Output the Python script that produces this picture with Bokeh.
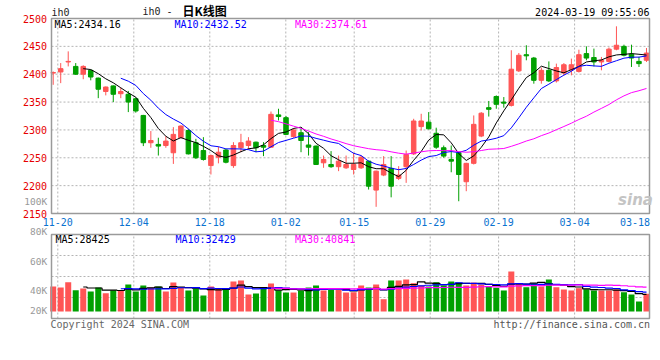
import pandas as pd
from bokeh.plotting import figure
from bokeh.models import Range1d, Label
from bokeh.embed import file_html
from bokeh.resources import INLINE

# ---------------- data ----------------
dates = ["11-20","11-21","11-22","11-23","11-24","11-27","11-28","11-29","11-30",
         "12-01","12-04","12-05","12-06","12-07","12-08","12-11","12-12","12-13","12-14","12-15",
         "12-18","12-19","12-20","12-21","12-22","12-25","12-26","12-27","12-28","12-29",
         "01-02","01-03","01-04","01-05","01-08","01-09","01-10","01-11","01-12","01-15",
         "01-16","01-17","01-18","01-19","01-22","01-23","01-24","01-25","01-26","01-29",
         "01-30","01-31","02-01","02-02","02-05","02-06","02-07","02-08","02-19","02-20",
         "02-21","02-22","02-23","02-26","02-27","02-28","02-29","03-01","03-04","03-05",
         "03-06","03-07","03-08","03-11","03-12","03-13","03-14","03-15","03-18","03-19"]

opens = [2402,2404,2422,2414,2400,2407,2393,2369,2379,2365,
         2364,2356,2326,2277,2274,2272,2259,2286,2299,2277,
         2263,2236,2251,2264,2236,2268,2272,2278,2272,2269,
         2327,2322,2288,2295,2273,2271,2241,2238,2234,2232,
         2229,2232,2244,2192,2219,2231,2213,2234,2257,2306,
         2314,2294,2268,2247,2259,2207,2240,2289,2340,2360,
         2350,2344,2406,2435,2429,2389,2407,2388,2402,2408,
         2405,2437,2430,2422,2423,2445,2450,2436,2423,2425]
highs = [2405,2420,2441,2420,2416,2408,2394,2378,2380,2376,
         2370,2358,2327,2298,2286,2289,2305,2308,2302,2284,
         2287,2256,2270,2266,2278,2293,2287,2279,2278,2333,
         2338,2325,2303,2302,2296,2272,2254,2262,2254,2254,
         2259,2254,2245,2227,2253,2253,2235,2263,2320,2329,
         2332,2304,2272,2272,2261,2241,2326,2332,2352,2362,
         2359,2443,2438,2452,2431,2412,2423,2419,2420,2428,
         2444,2450,2446,2431,2448,2486,2453,2453,2431,2447]
lows = [2381,2384,2414,2399,2391,2389,2357,2362,2350,2357,
        2332,2331,2271,2268,2254,2268,2239,2285,2256,2248,
        2245,2220,2240,2240,2232,2260,2265,2260,2253,2268,
        2317,2291,2286,2260,2254,2237,2232,2232,2226,2230,
        2220,2230,2193,2162,2217,2179,2210,2205,2255,2299,
        2301,2266,2250,2224,2172,2190,2238,2287,2324,2338,
        2340,2342,2404,2425,2383,2383,2386,2385,2398,2398,
        2403,2425,2414,2407,2421,2443,2432,2413,2413,2422]
closes = [2403,2410,2423,2400,2414,2395,2373,2377,2364,2369,
          2350,2334,2277,2281,2271,2280,2292,2307,2257,2250,
          2247,2254,2260,2242,2272,2277,2280,2268,2269,2328,
          2324,2292,2300,2281,2269,2238,2247,2234,2244,2238,
          2238,2251,2199,2226,2238,2199,2219,2256,2316,2316,
          2302,2269,2253,2244,2220,2240,2310,2330,2337,2346,
          2348,2409,2434,2433,2389,2407,2388,2412,2417,2417,
          2435,2429,2422,2425,2445,2452,2434,2429,2419,2438]
volumes = [41500,39800,48600,35400,38200,33200,39800,30400,35400,35400,
           44800,33200,43200,39800,41500,33200,48100,39800,34900,38200,
           26600,41500,38200,38200,49800,51500,28200,29900,38200,46500,
           34900,31500,31500,34900,39800,43200,34900,36000,36000,31500,
           32000,43200,39800,44800,20400,51500,51500,53100,47000,43200,
           41500,48600,43200,49800,48100,43200,48100,44800,41500,39300,
           34900,66400,47000,40300,47000,41500,53100,40300,36500,34900,
           38700,37000,34900,34900,34900,36500,32000,28200,16600,29400]

price_ticks = [2150, 2200, 2250, 2300, 2350, 2400, 2450, 2500]
date_tick_labels = ["11-20", "12-04", "12-18", "01-02", "01-15", "01-29", "02-19", "03-04", "03-18"]
vol_tick_labels = ["100K", "80K", "60K", "40K", "20K"]
header_price = ["MA5:2434.16", "MA10:2432.52", "MA30:2374.61"]
header_vol = ["MA5:28425", "MA10:32429", "MA30:40841"]
title_code = "ih0"
title_text = "ih0 -"
title_cjk = "日K线图"
stamp = "2024-03-19 09:55:06"
copyright_text = "Copyright 2024 SINA.COM"
url_text = "http://finance.sina.com.cn"

# ---------------- layout (pixels) ----------------
W, H = 656, 350
FL, FR = 51, 649                 # panel frame left/right
P_TOP_Y, P_BOT_Y = 18, 213       # price panel top/bottom
V_TOP_Y, V_BASE_Y, V_BOT_Y = 234, 311, 318   # volume panel
X0, PX = 52.7, 7.51              # first candle centre, slot width
VOL_PER_PX = 1660.0

UP, DOWN = "#ff5555", "#00a000"
GRID, FRAME = "#b4b4b4", "#9a9a9a"
MONO = "DejaVu Sans Mono"
MA_COLORS = ["#000000", "#0000ff", "#ff00ff"]

n = len(closes)
idx = list(range(n))
kx = lambda px: (px - X0) / PX
p_lo, p_hi = price_ticks[0], price_ticks[-1]
py = lambda y: p_hi + (p_lo - p_hi) * (y - P_TOP_Y) / (P_BOT_Y - P_TOP_Y)
vy = lambda y: (V_BASE_Y - y) * VOL_PER_PX

# date grid (reference steps its grid slightly wider than the candles)
tick_idx = [dates.index(d) for d in date_tick_labels]
grid_x = [kx(57.3 + 7.6 * i) for i in tick_idx]
fx0, fx1 = kx(FL), kx(FR)
grid_vis = [g for g in grid_x if g < fx1]
label_x = [min(g, kx(FR - 14.5)) for g in grid_x]

colors = [UP if c >= o else DOWN for o, c in zip(opens, closes)]
body_top = [max(o, c) for o, c in zip(opens, closes)]
body_bot = [min(o, c) for o, c in zip(opens, closes)]
cs = pd.Series(closes, dtype=float)
vs = pd.Series(volumes, dtype=float)

p = figure(width=W, height=H, x_range=Range1d(kx(0), kx(W)), y_range=Range1d(py(H), py(0)),
           x_axis_type=None, y_axis_type=None, output_backend="svg", toolbar_location=None,
           min_border=0)
p.outline_line_color = None
p.background_fill_color = "white"
p.border_fill_color = "white"
p.extra_y_ranges = {"vol": Range1d(vy(H), vy(0))}

v_top, v_bot = vy(V_TOP_Y), vy(V_BOT_Y)
grid_kw = dict(line_color=GRID, line_dash="2 2", line_width=1)

# ---- price panel grid ----
hg = price_ticks[1:-1]
p.segment(x0=[fx0] * len(hg), y0=hg, x1=[fx1] * len(hg), y1=hg, **grid_kw)
p.segment(x0=grid_vis, y0=[p_lo] * len(grid_vis), x1=grid_vis, y1=[p_hi] * len(grid_vis), **grid_kw)
# ---- volume panel grid ----
vq = [v_bot + (v_top - v_bot) * q / 4 for q in (1, 2, 3)]
p.segment(x0=[fx0] * 3, y0=vq, x1=[fx1] * 3, y1=vq, y_range_name="vol", **grid_kw)
p.segment(x0=grid_vis, y0=[v_bot] * len(grid_vis), x1=grid_vis, y1=[v_top] * len(grid_vis),
          y_range_name="vol", **grid_kw)

# ---- candles ----
p.segment(x0=idx, y0=lows, x1=idx, y1=highs, line_color=colors, line_width=1)
p.vbar(x=idx, width=0.6, top=body_top, bottom=body_bot, fill_color=colors, line_color=colors, line_width=1)
for w, col in zip((5, 10, 30), MA_COLORS):
    p.line(idx, cs.rolling(w).mean().tolist(), line_color=col, line_width=1)

# ---- volume ----
p.vbar(x=idx, width=0.8, top=volumes, bottom=0, fill_color=colors, line_color=None, y_range_name="vol")
for w, col in zip((5, 10, 30), MA_COLORS):
    p.step(idx, vs.rolling(w).mean().tolist(), mode="center", line_color=col, line_width=1.2,
           y_range_name="vol")

# ---- frames ----
p.quad(left=fx0, right=fx1, bottom=p_lo, top=p_hi, fill_color=None, line_color=FRAME, line_width=1.5)
p.quad(left=fx0, right=fx1, bottom=v_bot, top=v_top, fill_color=None, line_color=FRAME, line_width=1.5,
       y_range_name="vol")


def txt(s, x, y, color="#000000", size="10px", align="left", font=MONO, style_="normal",
        x_units="screen", y_units="screen"):
    if y_units == "screen":
        y = H - y
    p.add_layout(Label(x=x, y=y, x_units=x_units, y_units=y_units, text=s,
                       text_color=color, text_font_size=size, text_align=align,
                       text_baseline="middle", text_font=font, text_font_style=style_))


# price tick labels
for t in price_ticks:
    txt(str(t), 46.5, t, color="#e60000", align="right", y_units="data")
# date labels
for lx, lab in zip(label_x, date_tick_labels):
    txt(lab, lx, 221.5, color="#0a72d0", align="center", x_units="data")
# volume labels (as placed in the reference)
for s, y in zip(vol_tick_labels, (200.5, 230.5, 260.5, 290, 309.5)):
    txt(s, 46.7, y, color="#999999", size="9.5px", align="right")

# header
txt(title_code, 51, 12, color="#222222")
txt(title_text, 142, 10.5, color="#222222")
txt(title_cjk, 182, 10, size="12px", font="Noto Sans CJK SC", style_="bold")
txt(stamp, 649, 11.5, align="right")
for s, x, col in zip(header_price, (54, 174, 294.5), MA_COLORS):
    txt(s, x, 24, color=col)
for s, x, col in zip(header_vol, (55, 175, 294.5), MA_COLORS):
    txt(s, x, 238.5, color=col)
txt("sina", 635, 199, color="#c4c4c4", size="15px", align="center", font="DejaVu Sans",
    style_="bold italic")
txt(copyright_text, 50, 324, color="#666666")
txt(url_text, 649.5, 324, color="#555555", align="right")

open("out.html", "w").write(file_html(p, INLINE))
